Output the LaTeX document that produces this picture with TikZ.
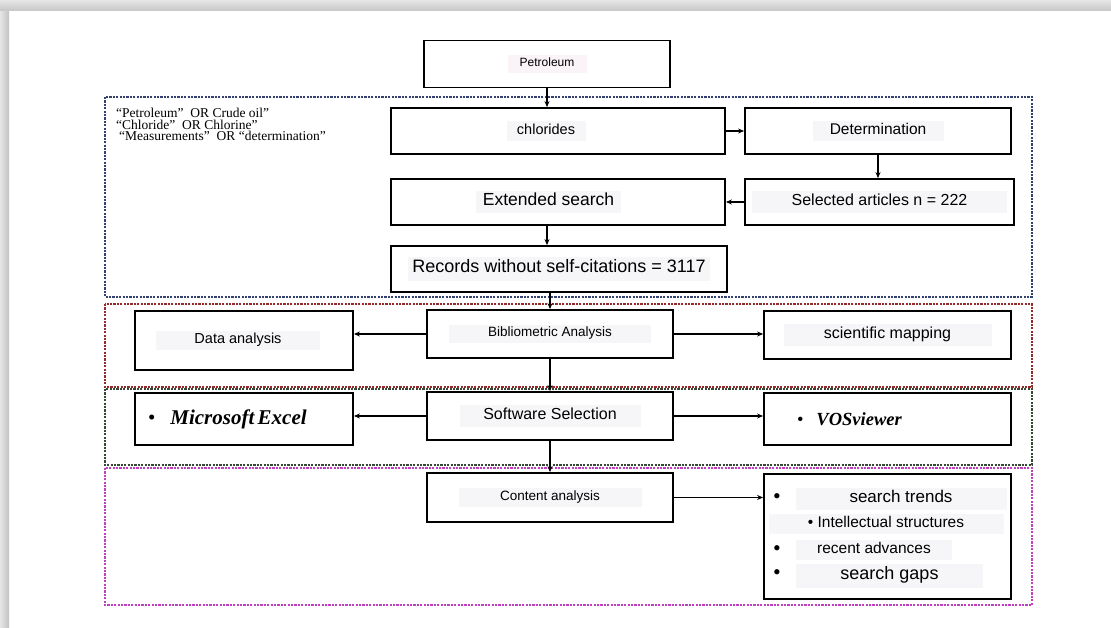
\documentclass[tikz,border=0pt]{standalone}
\usepackage{fontspec}
\setmainfont{Liberation Sans}
\newfontfamily\tnr{Liberation Serif}
\usetikzlibrary{arrows.meta,calc}
\definecolor{hlc}{RGB}{246,246,249}
\definecolor{hlp}{RGB}{250,243,247}
\definecolor{fblue}{RGB}{52,64,112}
\definecolor{fred}{RGB}{150,42,42}
\definecolor{fgreen}{RGB}{52,72,52}
\definecolor{fmag}{RGB}{192,64,192}
\newcommand{\hlbox}[3][hlc]{{\setlength{\fboxsep}{2.5pt}\colorbox{#1}{\makebox[#2]{\strut #3}}}}
\newcommand{\fs}[1]{\fontsize{#1}{#1}\selectfont}
\begin{document}
\begin{tikzpicture}[x=1pt,y=-1pt,
  box/.style={draw=black, line width=1.8pt, inner sep=0pt, align=center},
  frame/.style={line width=1.3pt, dash pattern=on 2.2pt off 1.2pt},
  arr/.style={draw=black, line width=1.2pt, -{Stealth[length=6pt,width=5pt]}},
  lbl/.style={inner sep=0pt},
  dot/.style={inner sep=0pt, font=\tnr\fs{22}}]
% background and page shadow
\fill[white] (0,0) rectangle (1111,628);
\useasboundingbox (0,0) rectangle (1111,628);
\shade[left color=gray!20, right color=gray!48] (0,0) rectangle (9,628);
\shade[top color=gray!20, bottom color=gray!45] (0,0) rectangle (1111,11);
% dashed frames
\draw[frame, fblue] (105,97) rectangle (1032,297);
\draw[frame, fred] (105,304) rectangle (1032,387);
\draw[frame, fgreen] (105,389) rectangle (1032,465);
\draw[frame, fmag] (105,468) rectangle (1032,605);
% query text
\node[lbl, anchor=north west, align=left, font=\tnr\fontsize{13.5}{11.5}\selectfont] (qry) at (116,108)
  {“Petroleum”~ OR Crude oil”\\“Chloride”~ OR Chlorine”\\\hspace*{3pt}“Measurements”~ OR “determination”};
% boxes
\node[box, minimum width=246pt, minimum height=47pt] (pet) at (547,64) {\fs{12}\hlbox[hlp]{74pt}{Petroleum}};
\node[box, minimum width=334pt, minimum height=46pt] (chl) at (558,131) {\fs{14.5}\hlbox{74pt}{chlorides}\hspace*{24pt}};
\node[box, minimum width=266pt, minimum height=46pt] (det) at (878,131) {\fs{15.5}\hlbox{126pt}{Determination}};
\node[box, minimum width=269pt, minimum height=46pt] (sel) at (879.5,202) {\fs{16}\hlbox{250pt}{Selected articles n = 222}};
\node[box, minimum width=334pt, minimum height=46pt] (ext) at (558,202) {\fs{17.5}\hlbox{140pt}{Extended search}\hspace*{19pt}};
\node[box, minimum width=336pt, minimum height=46pt] (rec) at (559,269) {\fs{18}\hlbox{297pt}{Records without self-citations = 3117}};
\node[box, minimum width=218pt, minimum height=59pt] (dat) at (244,340.5) {\fs{14.5}\hlbox{159pt}{Data analysis}\hspace*{12pt}};
\node[box, minimum width=246pt, minimum height=48pt] (bib) at (550,334) {\fs{13.5}\hlbox{197pt}{Bibliometric Analysis}};
\node[box, minimum width=247pt, minimum height=48pt] (sci) at (887.5,335) {\fs{16}\hlbox{203pt}{scientific mapping}};
\node[box, minimum width=218pt, minimum height=52pt, text width=192pt, inner xsep=13pt, align=left] (exc) at (244,419)
  {\tnr\fs{21}\textbullet\hspace{15pt}\textbf{\textit{Microsoft Excel}}};
\node[box, minimum width=246pt, minimum height=48pt] (sw) at (550,416) {\fs{16}\hlbox{176pt}{Software Selection}};
\node[box, minimum width=247pt, minimum height=52pt, text width=181pt, inner xsep=33pt, align=left] (vos) at (887.5,419)
  {\tnr\fs{18.5}\textbullet\hspace{13pt}\textbf{\textit{VOSviewer}}};
\node[box, minimum width=246pt, minimum height=49pt] (con) at (550,497.5) {\fs{13.5}\hlbox{178pt}{Content analysis}};
\node[box, minimum width=247pt, minimum height=125pt] (lst) at (887.5,536.5) {};
% list items
\node[dot] (b1) at (777,499) {\textbullet};
\node[lbl] (t1) at (901,499) {\fs{17}\hlbox{206pt}{search trends}};
\node[lbl] (t2) at (886,524) {\fs{15.5}\hlbox{230pt}{\textbullet\ Intellectual structures}};
\node[dot] (b3) at (777,551) {\textbullet};
\node[lbl] (t3) at (874,550) {\fs{15.5}\hlbox{151pt}{recent advances}};
\node[dot] (b4) at (777,575) {\textbullet};
\node[lbl] (t4) at (889.5,576) {\fs{18}\hlbox{182pt}{search gaps}};
% connectors
\draw[arr] (pet.south) -- (pet.south |- chl.north);
\draw[arr] (chl.east) -- (det.west);
\draw[arr] (det.south) -- (det.south |- sel.north);
\draw[arr] (sel.west) -- (ext.east);
\draw[arr] (ext.south -| pet.south) -- (rec.north -| pet.south);
\draw[arr] (rec.south -| bib.north) -- (bib.north);
\draw[arr] (bib.west) -- (bib.west -| dat.east);
\draw[arr] (bib.east) -- (bib.east -| sci.west);
\draw[arr] (bib.south) -- (sw.north);
\draw[arr] (sw.west) -- (sw.west -| exc.east);
\draw[arr] (sw.east) -- (sw.east -| vos.west);
\draw[arr] (sw.south) -- (con.north);
\draw[arr] (con.east) -- (con.east -| lst.west);
\end{tikzpicture}
\end{document}
